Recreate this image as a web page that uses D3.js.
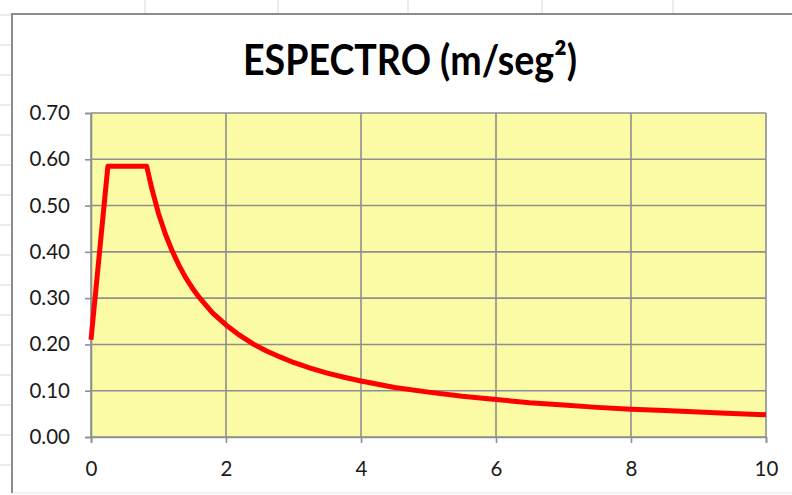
<!DOCTYPE html>
<html><head><meta charset="utf-8">
<script src="https://cdn.jsdelivr.net/npm/d3@7/dist/d3.min.js"></script>
<style>body{margin:0;background:#fff}svg{display:block}</style>
</head><body><svg id="c" width="792" height="495"></svg>
<script>
// ---- data ----
const periods = [0, 0.25, 0.825, 0.9, 1.0, 1.1, 1.2, 1.3, 1.4, 1.5, 1.6, 1.8, 2.0, 2.2, 2.4, 2.6, 2.8, 3.0, 3.25, 3.5, 3.75, 4.0, 4.5, 5.0, 5.5, 6.0, 6.5, 7.0, 7.5, 8.0, 8.5, 9.0, 9.5, 10.0];
const accel   = [0.21, 0.585, 0.585, 0.537, 0.483, 0.439, 0.403, 0.372, 0.345, 0.322, 0.302, 0.268, 0.242, 0.220, 0.201, 0.186, 0.173, 0.161, 0.149, 0.138, 0.129, 0.121, 0.107, 0.097, 0.088, 0.081, 0.074, 0.069, 0.064, 0.060, 0.057, 0.054, 0.051, 0.048];
const xTicks = [0, 2, 4, 6, 8, 10];
const yTicks = [0, 0.1, 0.2, 0.3, 0.4, 0.5, 0.6, 0.7];
const titleText = "ESPECTRO (m/seg²)";

const svg = d3.select("#c");
const W = 792, H = 495;
const font = "Lato, 'Open Sans', sans-serif";

// spreadsheet cells behind the chart object
svg.append("g").selectAll("line").data(d3.range(15, H, 30)).join("line")
  .attr("x1", 0).attr("x2", 12).attr("y1", d => d).attr("y2", d => d)
  .attr("stroke", "#d9d9d9").attr("stroke-width", 1);
svg.append("g").selectAll("line").data([145, 278, 408, 542, 673]).join("line")
  .attr("x1", d => d).attr("x2", d => d).attr("y1", 0).attr("y2", 14)
  .attr("stroke", "#d9d9d9").attr("stroke-width", 1);

// chart object frame
svg.append("rect").attr("x", 12).attr("y", 14).attr("width", W).attr("height", 479).attr("fill", "#fff");
svg.append("line").attr("x1", 12).attr("x2", W).attr("y1", 493).attr("y2", 493).attr("stroke", "#e3e3e3");
svg.append("line").attr("x1", 12).attr("x2", W).attr("y1", 14).attr("y2", 14).attr("stroke", "#8c8c8c").attr("stroke-width", 2);
svg.append("line").attr("x1", 12).attr("x2", 12).attr("y1", 13).attr("y2", 493).attr("stroke", "#8c8c8c").attr("stroke-width", 2);

// scales
const pL = 91, pR = 766, pT = 113, pB = 437;
const x = d3.scaleLinear().domain([0, 10]).range([pL, pR]);
const y = d3.scaleLinear().domain([0, 0.7]).range([pB, pT]);

// plot area
svg.append("rect").attr("x", pL).attr("y", pT).attr("width", pR - pL).attr("height", pB - pT)
  .attr("fill", "#fbfba6");

const gridColor = "#8f8f8f";
svg.append("g").selectAll("line").data(yTicks).join("line")
  .attr("x1", pL).attr("x2", pR).attr("y1", d => y(d)).attr("y2", d => y(d))
  .attr("stroke", gridColor).attr("stroke-width", 1.6);
svg.append("g").selectAll("line").data(xTicks).join("line")
  .attr("x1", d => x(d)).attr("x2", d => x(d)).attr("y1", pT).attr("y2", pB)
  .attr("stroke", gridColor).attr("stroke-width", 1.6);

// axes
const yAxis = svg.append("g").attr("transform", `translate(${pL},0)`)
  .call(d3.axisLeft(y).tickValues(yTicks).tickFormat(d3.format(".2f")).tickSize(6).tickPadding(15));
const xAxis = svg.append("g").attr("transform", `translate(0,${pB})`)
  .call(d3.axisBottom(x).tickValues(xTicks).tickFormat(d3.format("d")).tickSize(6).tickPadding(18));
[yAxis, xAxis].forEach(a => {
  a.select(".domain").attr("stroke", gridColor).attr("stroke-width", 1.6);
  a.selectAll(".tick line").attr("stroke", gridColor).attr("stroke-width", 1.6);
  a.selectAll(".tick text").attr("fill", "#1a1a1a").style("font-family", font).style("font-size", "20.5px");
});

// series
const pts = periods.map((p, i) => [p, accel[i]]);
svg.append("path").datum(pts)
  .attr("fill", "none").attr("stroke", "#ff0000").attr("stroke-width", 5)
  .attr("stroke-linejoin", "round")
  .attr("d", d3.line().x(d => x(d[0])).y(d => y(d[1])));

// title
svg.append("text").attr("x", 410).attr("y", 75).attr("text-anchor", "middle")
  .style("font-family", font).style("font-weight", "bold").style("font-size", "42px")
  .attr("fill", "#000")
  .attr("textLength", 334).attr("lengthAdjust", "spacingAndGlyphs")
  .text(titleText);
</script>
</body></html>
